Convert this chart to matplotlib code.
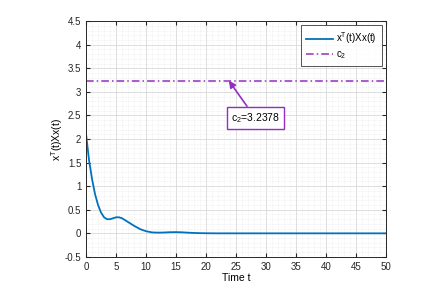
import matplotlib
matplotlib.use("Agg")
import matplotlib.pyplot as plt
from matplotlib.ticker import MultipleLocator

plt.rcParams["font.family"] = ["Liberation Sans", "DejaVu Sans"]
plt.rcParams["mathtext.fontset"] = "custom"
plt.rcParams["mathtext.rm"] = "Liberation Sans"
plt.rcParams["mathtext.it"] = "Liberation Sans"

# values
t = [0, 0.5, 1, 1.5, 2, 2.5, 3, 3.5, 4, 4.5, 5, 5.5, 6, 6.5, 7, 8, 9, 10,
     11, 12, 13, 14, 15, 16, 17, 18, 19, 20, 22, 25, 30, 35, 40, 45, 50]
xtx = [2.10, 1.55, 1.15, 0.83, 0.60, 0.44, 0.34, 0.30, 0.30, 0.32, 0.34, 0.34,
       0.32, 0.28, 0.24, 0.16, 0.09, 0.045, 0.02, 0.015, 0.018, 0.024, 0.026,
       0.022, 0.014, 0.008, 0.004, 0.002, 0.0, 0.0, 0.0, 0.0, 0.0, 0.0, 0.0]
c2 = 3.2378

blue = (0.0, 0.447, 0.741)
purple = (0.58, 0.18, 0.76)

fig = plt.figure(figsize=(4.26, 2.89), dpi=100)
ax = fig.add_axes([0.202, 0.111, 0.704, 0.816])

ax.plot(t, xtx, color=blue, lw=1.3, label=r"x$^{T}$(t)Xx(t)")
ax.axhline(c2, color=purple, lw=1.1, dashes=(5, 2, 1, 2), label=r"c$_{2}$")

ax.annotate(r"c$_{2}$=3.2378", xy=(23.8, c2), xytext=(28.2, 2.45),
            ha="center", va="center", fontsize=7.5,
            bbox=dict(boxstyle="square,pad=0.4", fc="white", ec=purple, lw=1.0),
            arrowprops=dict(arrowstyle="-|>", color=purple, lw=1.2,
                            mutation_scale=10, shrinkA=0, shrinkB=0))

ax.set_xlim(0, 50)
ax.set_ylim(-0.5, 4.5)
ax.xaxis.set_major_locator(MultipleLocator(5))
ax.xaxis.set_minor_locator(MultipleLocator(1))
ax.yaxis.set_major_locator(MultipleLocator(0.5))
ax.yaxis.set_minor_locator(MultipleLocator(0.1))
ax.set_yticks([-0.5, 0, 0.5, 1, 1.5, 2, 2.5, 3, 3.5, 4, 4.5])
ax.set_yticklabels(["-0.5", "0", "0.5", "1", "1.5", "2", "2.5", "3", "3.5", "4", "4.5"])
ax.grid(True, which="major", color="0.85", lw=0.6)
ax.grid(True, which="minor", color="0.88", lw=0.4, ls=":")
ax.tick_params(which="both", direction="in", top=True, right=True, labelsize=7,
               colors="0.15")
ax.tick_params(which="minor", length=0)
ax.tick_params(which="major", length=3)
for s in ax.spines.values():
    s.set_color("0.15")
    s.set_linewidth(0.7)

ax.set_xlabel("Time t", fontsize=7.5, labelpad=1)
ax.set_ylabel(r"x$^{T}$(t)Xx(t)", fontsize=7.5, labelpad=0)

leg = ax.legend(loc="upper right", fontsize=7, frameon=True, fancybox=False,
                edgecolor="0.15", handlelength=2.8, borderpad=0.5,
                labelspacing=0.35, handletextpad=0.3, borderaxespad=0.45)
leg.get_frame().set_linewidth(0.7)

fig.savefig("out.png", dpi=100)
